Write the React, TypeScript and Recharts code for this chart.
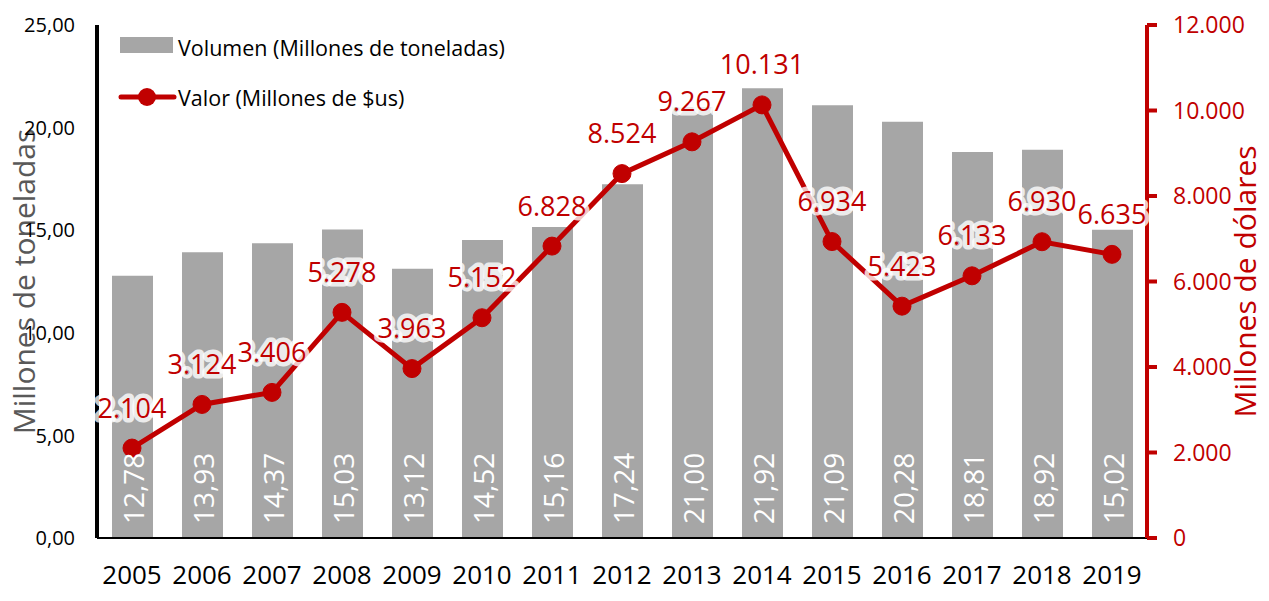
import React from 'react';
import { ComposedChart, Bar, Line, XAxis, YAxis, LabelList } from 'recharts';

const years = ['2005','2006','2007','2008','2009','2010','2011','2012','2013','2014','2015','2016','2017','2018','2019'];
const volumen = [12.78, 13.93, 14.37, 15.03, 13.12, 14.52, 15.16, 17.24, 21.0, 21.92, 21.09, 20.28, 18.81, 18.92, 15.02];
const valor = [2104, 3124, 3406, 5278, 3963, 5152, 6828, 8524, 9267, 10131, 6934, 5423, 6133, 6930, 6635];
const leftTicks = [0, 5, 10, 15, 20, 25];
const rightTicks = [0, 2000, 4000, 6000, 8000, 10000, 12000];

const data = years.map((y, i) => ({ year: y, volumen: volumen[i], valor: valor[i] }));

const FONT = '"Open Sans", sans-serif';
const RED = '#C00000';
const GRAY = '#A6A6A6';

const fmtLeft = (v: number) => v.toFixed(2).replace('.', ',');
const fmtRight = (v: number) => v === 0 ? '0' : v.toLocaleString('de-DE');

const BarLabel = (props: any) => {
  const { x, y, width, height, value } = props;
  const cx = x + width / 2;
  const by = y + height - 14;
  return (
    <text x={cx} y={by} transform={`rotate(-90 ${cx} ${by})`} fill="#ffffff" fontSize={28} fontFamily={FONT} textAnchor="start" dominantBaseline="central">
      {fmtLeft(value)}
    </text>
  );
};

const LineLabel = (props: any) => {
  const { x, y, value } = props;
  const s = fmtRight(value);
  return (
    <g>
      <text x={x} y={y - 41} fill="#ffffff" stroke="#ffffff" strokeWidth={9} strokeOpacity={0.8} strokeLinejoin="round" fontSize={27} fontFamily={FONT} textAnchor="middle" dominantBaseline="central">{s}</text>
      <text x={x} y={y - 41} fill={RED} fontSize={27} fontFamily={FONT} textAnchor="middle" dominantBaseline="central">{s}</text>
    </g>
  );
};

const LegendBox = () => (
  <div style={{ position: 'absolute', left: 118, top: 30, fontFamily: FONT, fontSize: 21.5, color: '#000', pointerEvents: 'none' }}>
    <div style={{ display: 'flex', alignItems: 'center', height: 34 }}>
      <svg width={60} height={20}><rect x={2} y={0} width={53} height={16} fill={GRAY} /></svg>
      <span style={{ marginLeft: 0 }}>Volumen (Millones de toneladas)</span>
    </div>
    <div style={{ display: 'flex', alignItems: 'center', height: 34, marginTop: 16 }}>
      <svg width={60} height={22}><line x1={3} y1={11} x2={56} y2={11} stroke={RED} strokeWidth={5} strokeLinecap="round" /><circle cx={29} cy={11} r={9} fill={RED} /></svg>
      <span style={{ marginLeft: 0 }}>Valor (Millones de $us)</span>
    </div>
  </div>
);

const LeftAxisLabel = (props: any) => {
  const { viewBox } = props;
  const cx = viewBox.x + 23;
  const cy = viewBox.y + viewBox.height / 2;
  return (
    <text x={cx} y={cy} transform={`rotate(-90 ${cx} ${cy})`} fill="#595959" fontSize={30} fontFamily={FONT} textAnchor="middle" dominantBaseline="central">Millones de toneladas</text>
  );
};

const RightAxisLabel = (props: any) => {
  const { viewBox } = props;
  const cx = viewBox.x + 97;
  const cy = viewBox.y + viewBox.height / 2;
  return (
    <text x={cx} y={cy} transform={`rotate(-90 ${cx} ${cy})`} fill={RED} fontSize={30} fontFamily={FONT} textAnchor="middle" dominantBaseline="central">Millones de dólares</text>
  );
};

export default function App() {
  return (
    <div style={{ position: 'absolute', left: 0, top: 0, width: 1269, height: 601, background: '#fff' }}>
      <ComposedChart width={1269} height={601} data={data} margin={{ top: 25, right: 0, bottom: 0, left: 0 }}>
        <XAxis dataKey="year" height={63} tickLine={false} tickSize={0} tickMargin={28} axisLine={{ stroke: '#000', strokeWidth: 2 }} tick={{ fill: '#000', fontSize: 26, fontFamily: FONT }} interval={0} />
        <YAxis yAxisId="left" orientation="left" width={97} domain={[0, 25]} ticks={leftTicks} tickFormatter={fmtLeft} tickLine={false} tickSize={0} tickMargin={22} axisLine={{ stroke: '#000', strokeWidth: 4 }} tick={{ fill: '#000', fontSize: 20, fontFamily: FONT }} label={<LeftAxisLabel />} />
        <YAxis yAxisId="right" orientation="right" width={122} domain={[0, 12000]} ticks={rightTicks} tickFormatter={fmtRight} tickLine={{ stroke: RED, strokeWidth: 4 }} tickSize={10} tickMargin={16} axisLine={{ stroke: RED, strokeWidth: 4 }} tick={{ fill: RED, fontSize: 23, fontFamily: FONT }} label={<RightAxisLabel />} />
        <Bar yAxisId="left" dataKey="volumen" name="Volumen (Millones de toneladas)" fill={GRAY} barSize={41} isAnimationActive={false}>
          <LabelList dataKey="volumen" content={<BarLabel />} />
        </Bar>
        <Line yAxisId="right" dataKey="valor" name="Valor (Millones de $us)" stroke={RED} strokeWidth={5} dot={{ r: 9, fill: RED, stroke: RED, strokeWidth: 1 }} activeDot={false} isAnimationActive={false}>
          <LabelList dataKey="valor" content={<LineLabel />} />
        </Line>
      </ComposedChart>
      <LegendBox />
    </div>
  );
}
